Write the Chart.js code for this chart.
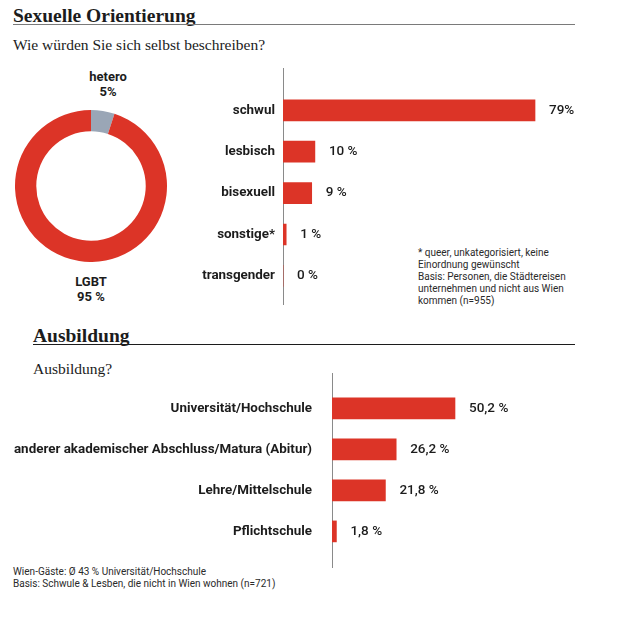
<!DOCTYPE html>
<html lang="de">
<head>
<meta charset="utf-8">
<title>Sexuelle Orientierung / Ausbildung</title>
<script src="https://cdn.jsdelivr.net/npm/chart.js@4.4.1/dist/chart.umd.min.js"></script>
<style>
  body { margin: 0; background: #fff; color: #1c1c1c; }
  #page { position: relative; width: 621px; height: 620px; overflow: hidden; }
  .abs { position: absolute; white-space: nowrap; }
  .head { font-family: "Liberation Serif", serif; font-weight: bold; font-size: 19.5px; line-height: 19.5px; }
  .sub { font-family: "Liberation Serif", serif; font-size: 15.5px; line-height: 16px; }
  .rule { position: absolute; height: 0; }
  .donut-lbl { font-family: Roboto, sans-serif; font-weight: bold; font-size: 13px; line-height: 15px; text-align: center; transform: translateX(-50%); }
  .note { font-family: Roboto, sans-serif; font-size: 10px; line-height: 12px; color: #2a2a2a; }
  canvas { position: absolute; }
</style>
</head>
<body>
<div id="page">
  <div class="abs head" style="left:13px; top:5.7px;">Sexuelle Orientierung</div>
  <div class="rule" style="left:13px; top:24px; width:562px; border-top:1.5px solid #7a7a7a;"></div>
  <div class="abs sub" style="left:13px; top:36.8px;">Wie würden Sie sich selbst beschreiben?</div>

  <div id="lblTop" class="abs donut-lbl" style="left:108px; top:69px;"></div>
  <div id="lblBottom" class="abs donut-lbl" style="left:91px; top:274px;"></div>
  <canvas id="donutChart" width="152" height="152" style="left:15px; top:110px;"></canvas>

  <div class="abs note" style="left:418px; top:247px;">* queer, unkategorisiert, keine<br>Einordnung gewünscht<br>Basis: Personen, die Städtereisen<br>unternehmen und nicht aus Wien<br>kommen (n=955)</div>

  <canvas id="orientChart" width="460" height="257" style="left:150px; top:60px;"></canvas>

  <div class="abs head" style="left:33px; top:325.7px;">Ausbildung</div>
  <div class="rule" style="left:33px; top:344px; width:542px; border-top:1.5px solid #1c1c1c;"></div>
  <div class="abs sub" style="left:33px; top:360.8px;">Ausbildung?</div>

  <div class="abs note" style="left:13px; top:566px;">Wien-Gäste: Ø 43 % Universität/Hochschule<br>Basis: Schwule &amp; Lesben, die nicht in Wien wohnen (n=721)</div>

  <canvas id="eduChart" width="621" height="226" style="left:0px; top:356px;"></canvas>
</div>

<script>
// Donut: hetero vs LGBT
const donutCats = ['hetero', 'LGBT'];
const donutValues = [5, 95];
const donutValueText = ['5%', '95 %'];

// Sexuelle Orientierung bars
const orientCats = ['schwul', 'lesbisch', 'bisexuell', 'sonstige*', 'transgender'];
const orientValues = [79, 10, 9, 1, 0];
const orientValueText = ['79%', '10 %', '9 %', '1 %', '0 %'];

// Ausbildung bars
const eduCats = ['Universität/Hochschule', 'anderer akademischer Abschluss/Matura (Abitur)', 'Lehre/Mittelschule', 'Pflichtschule'];
const eduValues = [50.2, 26.2, 21.8, 1.8];
const eduValueText = eduValues.map(v => v.toFixed(1).replace('.', ',') + ' %');

const RED = '#dc3427';
const GREY = '#9aa6b6';
const INK = '#1c1c1c';

Chart.defaults.animation = false;
Chart.defaults.plugins.legend.display = false;
Chart.defaults.plugins.tooltip.enabled = false;
Chart.defaults.font.family = 'Roboto, sans-serif';

// vertical axis line, a bit longer than the bar area
function axisLine(above, below) {
    return {
        id: 'axisLine',
        beforeDatasetsDraw(chart) {
            const { ctx, chartArea } = chart;
            const x = Math.round(chartArea.left) + 0.5;
            ctx.save();
            ctx.strokeStyle = '#8a8a8a';
            ctx.lineWidth = 1;
            ctx.beginPath();
            ctx.moveTo(x, chartArea.top - above);
            ctx.lineTo(x, chartArea.bottom + below);
            ctx.stroke();
            ctx.restore();
        }
    };
}

// value text right of each bar
function valueLabels(texts) {
    return {
        id: 'valueLabels',
        afterDatasetsDraw(chart) {
            const { ctx } = chart;
            ctx.save();
            ctx.font = '500 13.5px Roboto, sans-serif';
            ctx.fillStyle = INK;
            ctx.textBaseline = 'middle';
            chart.getDatasetMeta(0).data.forEach((bar, i) => {
                ctx.fillText(texts[i], bar.x + 14, bar.y);
            });
            ctx.restore();
        }
    };
}

// layout padding is kept larger than the tick padding so the bar area stays where it is set
function barOptions(axisWidth, tickPad, padding) {
    return {
        indexAxis: 'y',
        responsive: false,
        layout: { padding: padding },
        scales: {
            x: { display: false, min: 0, max: 100 },
            y: {
                grid: { display: false, drawTicks: false },
                border: { display: false },
                ticks: { color: INK, padding: tickPad, font: { size: 13.4, weight: 'bold' } },
                afterFit(scale) { scale.width = axisWidth; }
            }
        }
    };
}

document.getElementById('lblTop').innerHTML = donutCats[0] + '<br>' + donutValueText[0];
document.getElementById('lblBottom').innerHTML = donutCats[1] + '<br>' + donutValueText[1];

new Chart(document.getElementById('donutChart'), {
    type: 'doughnut',
    data: {
        labels: donutCats,
        datasets: [{
            data: donutValues,
            backgroundColor: [GREY, RED],
            borderWidth: 0
        }]
    },
    options: {
        responsive: false,
        cutout: '72%',
        rotation: 0
    }
});

new Chart(document.getElementById('orientChart'), {
    type: 'bar',
    data: {
        labels: orientCats,
        datasets: [{
            data: orientValues,
            backgroundColor: RED,
            barThickness: 21
        }]
    },
    options: barOptions(133, 8, { top: 29.6, bottom: 20.4, left: 0, right: 8 }),
    plugins: [axisLine(21.6, 8.4), valueLabels(orientValueText)]
});

new Chart(document.getElementById('eduChart'), {
    type: 'bar',
    data: {
        labels: eduCats,
        datasets: [{
            data: eduValues,
            backgroundColor: RED,
            barThickness: 21
        }]
    },
    options: barOptions(332, 20, { top: 31.9, bottom: 30.1, left: 0, right: 44 }),
    plugins: [axisLine(14.9, 16.1), valueLabels(eduValueText)]
});
</script>
</body>
</html>
